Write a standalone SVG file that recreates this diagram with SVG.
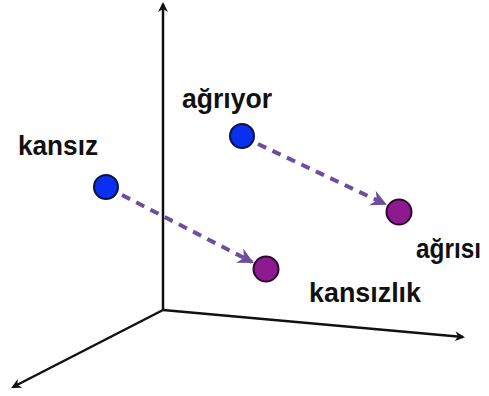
<svg xmlns="http://www.w3.org/2000/svg" width="489" height="396" viewBox="0 0 489 396">
<style>
.axis{stroke:#111;stroke-width:2.5;fill:none}
.dash{stroke:#6b4f9e;stroke-width:4;stroke-dasharray:9 7;fill:none}
.blue{fill:#0a2ff0;stroke:#0a1440;stroke-width:2}
.purple{fill:#8e1a92;stroke:#2a0a2a;stroke-width:2}
.lbl{font-family:"Liberation Sans",Arial,sans-serif;font-weight:bold;font-size:27px;fill:#111}
</style>
<defs>
<marker id="ah" markerWidth="10" markerHeight="10" refX="8" refY="5" orient="auto" markerUnits="userSpaceOnUse">
<path d="M0,0 L10,5 L0,10 L3,5 Z" fill="#111"/>
</marker>
<marker id="dh" markerWidth="18" markerHeight="16" refX="14" refY="8" orient="auto" markerUnits="userSpaceOnUse">
<path d="M0,0 L16,8 L0,16 L5,8 Z" fill="#6b4f9e"/>
</marker>
</defs>
<g id="axes">
<line class="axis" x1="163" y1="310" x2="163" y2="4" marker-end="url(#ah)"/>
<line class="axis" x1="163" y1="310" x2="463" y2="337" marker-end="url(#ah)"/>
<line class="axis" x1="163" y1="310" x2="13" y2="387" marker-end="url(#ah)"/>
</g>
<g id="connectors">
<line class="dash" x1="258" y1="144" x2="385" y2="204" marker-end="url(#dh)"/>
<line class="dash" x1="122" y1="195" x2="252" y2="262" marker-end="url(#dh)"/>
</g>
<g id="agriyor">
<circle class="blue" cx="242" cy="136" r="12"/>
<text class="lbl" x="182" y="108" textLength="90" lengthAdjust="spacingAndGlyphs">ağrıyor</text>
</g>
<g id="kansiz">
<circle class="blue" cx="106" cy="187" r="12"/>
<text class="lbl" x="18" y="155" textLength="80" lengthAdjust="spacingAndGlyphs">kansız</text>
</g>
<g id="agrisi">
<circle class="purple" cx="399" cy="212" r="12.5"/>
<text class="lbl" x="416" y="258" textLength="65" lengthAdjust="spacingAndGlyphs">ağrısı</text>
</g>
<g id="kansizlik">
<circle class="purple" cx="266" cy="269" r="12.5"/>
<text class="lbl" x="309" y="302" textLength="112" lengthAdjust="spacingAndGlyphs">kansızlık</text>
</g>
</svg>
